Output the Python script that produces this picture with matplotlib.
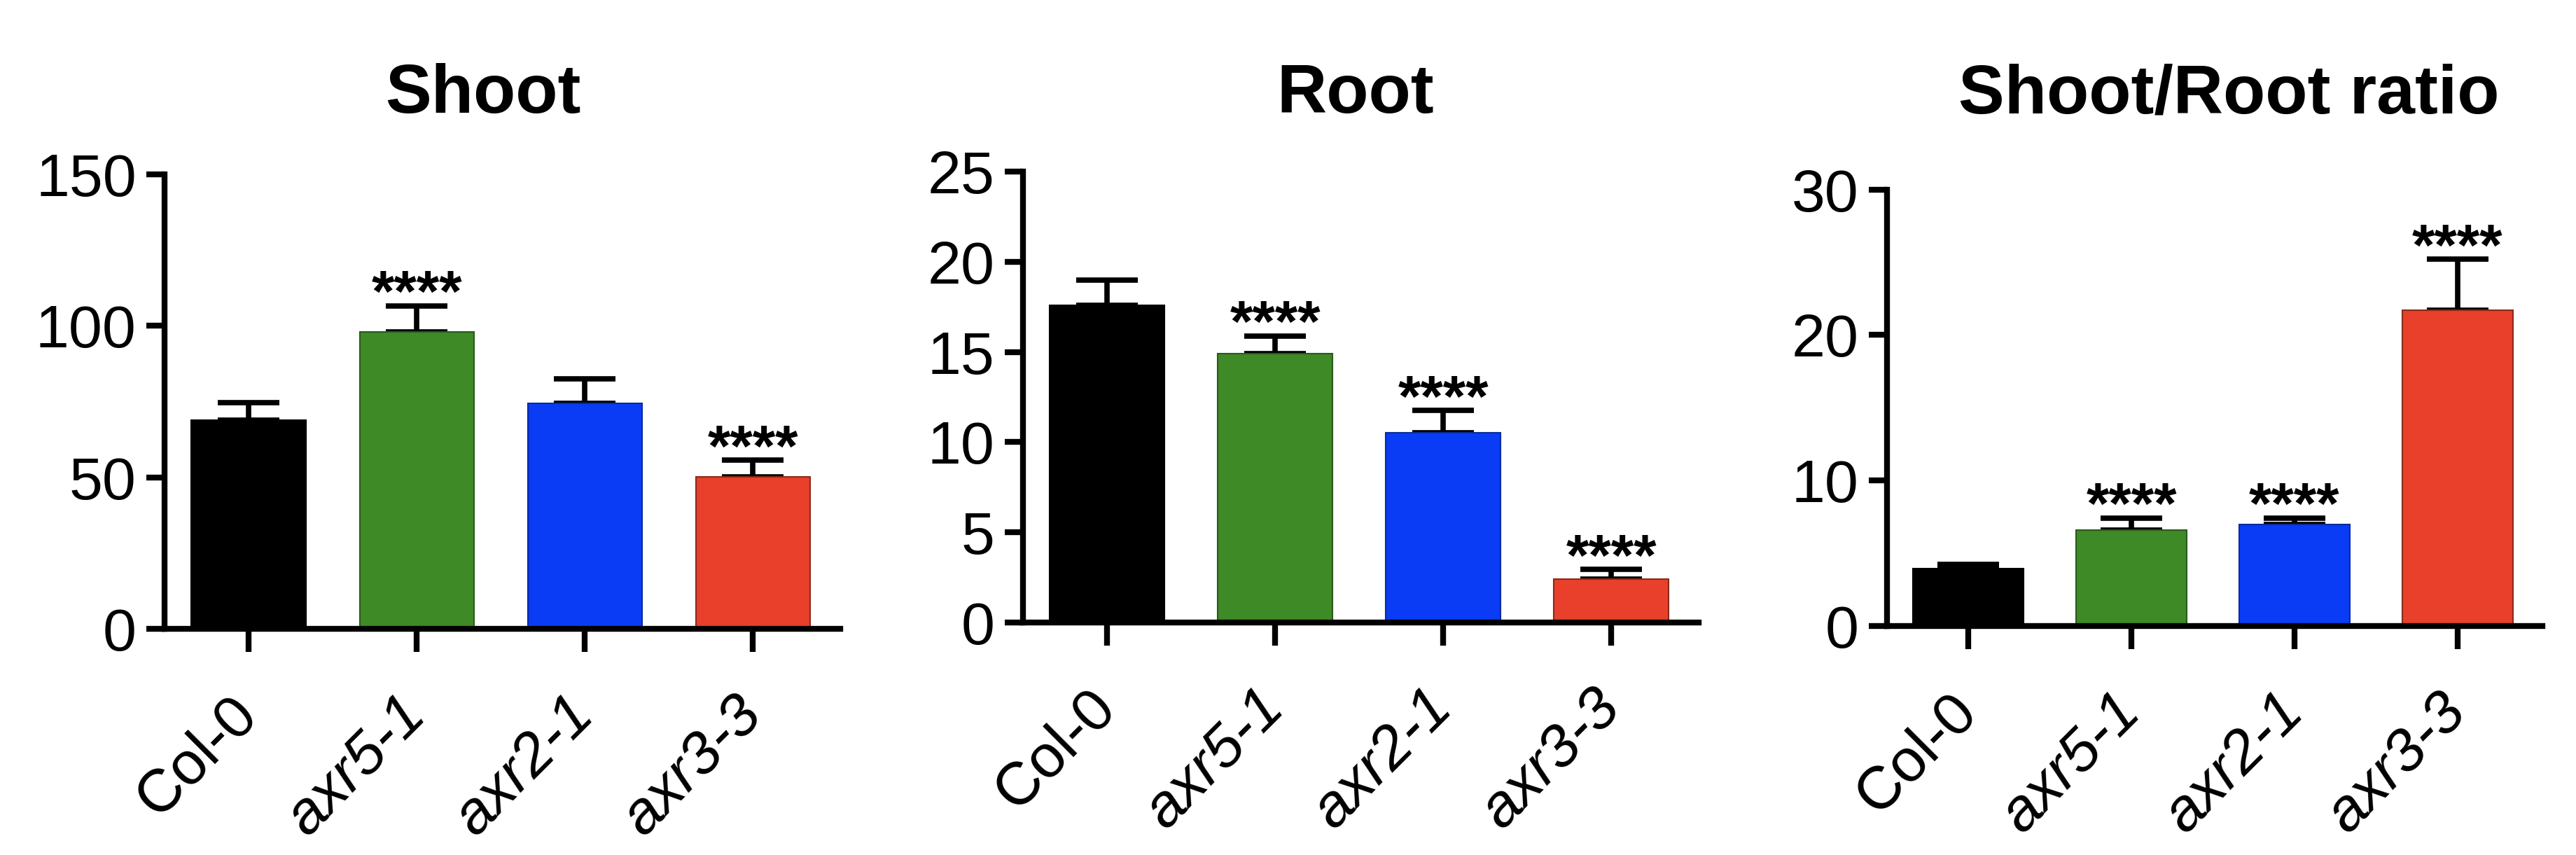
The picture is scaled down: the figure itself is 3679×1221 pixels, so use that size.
import matplotlib
matplotlib.use('Agg')
import matplotlib.pyplot as plt
import numpy as np

plt.rcParams['font.family'] = ['Liberation Sans', 'DejaVu Sans']

genotypes = ['Col-0', 'axr5-1', 'axr2-1', 'axr3-3']
bar_colors = ['#000000', '#3e8a26', '#0a3cf5', '#e8402a']
edge_colors = ['#000000', '#2a5a1a', '#0a2aa0', '#8a2a1a']

titles = ['Shoot', 'Root', 'Shoot/Root ratio']
shoot_mean = [68.9, 98.1, 74.4, 50.2]
shoot_err = [5.8, 8.5, 8.1, 5.5]
root_mean = [17.6, 14.9, 10.5, 2.38]
root_err = [1.4, 1.0, 1.25, 0.55]
ratio_mean = [3.96, 6.6, 6.98, 21.7]
ratio_err = [0.27, 0.83, 0.45, 3.5]
stars = [['', '****', '', '****'],
         ['', '****', '****', '****'],
         ['', '****', '****', '****']]
ymax = [150, 25, 30]
ystep = [50, 5, 10]

means = [shoot_mean, root_mean, ratio_mean]
errs = [shoot_err, root_err, ratio_err]

rects = [[0.0639, 0.2645, 0.2623, 0.5315],
         [0.3971, 0.2722, 0.2623, 0.5268],
         [0.7325, 0.2677, 0.2544, 0.5107]]
title_x = [0.1876, 0.5262, 0.8652]

fig = plt.figure(figsize=(36.79, 12.21), dpi=100)

for i in range(3):
    ax = fig.add_axes(rects[i])
    x = np.arange(len(genotypes))
    ax.bar(x, means[i], width=0.68, color=bar_colors, edgecolor=edge_colors,
           linewidth=1.5, zorder=2)
    ax.errorbar(x, means[i], yerr=[np.zeros(4), errs[i]], fmt='none',
                ecolor='black', elinewidth=5.5, capsize=32, capthick=5.5, zorder=1)
    for j in range(4):
        if stars[i][j]:
            ax.annotate(stars[i][j], (x[j], means[i][j] + errs[i][j]),
                        xytext=(0, -6), textcoords='offset points',
                        ha='center', va='baseline', fontsize=60,
                        fontweight='bold')
    ax.set_xlim(-0.5, 3.52)
    ax.set_ylim(0, ymax[i])
    ax.set_yticks(np.arange(0, ymax[i] + 1, ystep[i]))
    ax.set_xticks(x)
    ax.set_xticklabels(genotypes, rotation=45, ha='right', va='center',
                       rotation_mode='anchor')
    for k, lab in enumerate(ax.get_xticklabels()):
        if k > 0:
            lab.set_style('italic')
    ax.spines['top'].set_visible(False)
    ax.spines['right'].set_visible(False)
    ax.spines['left'].set_linewidth(6)
    ax.spines['bottom'].set_linewidth(6)
    ax.tick_params(axis='y', length=19, width=6, labelsize=62, pad=10)
    ax.tick_params(axis='x', length=24, width=6, labelsize=62, pad=55)
    fig.text(title_x[i], 0.868, titles[i], ha='center', va='baseline',
             fontsize=71, fontweight='bold')

fig.savefig('out.png', dpi=100)
